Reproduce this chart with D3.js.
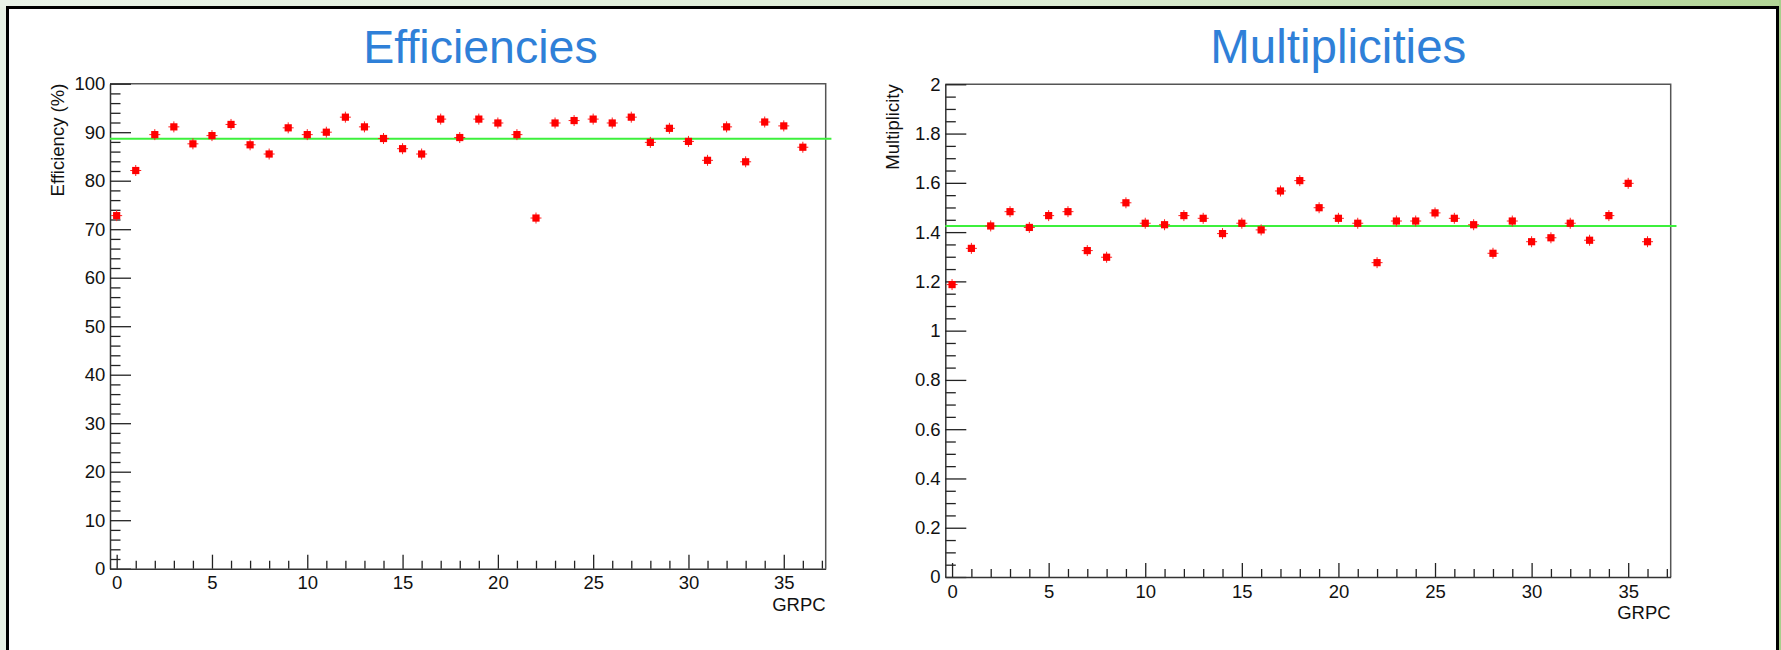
<!DOCTYPE html>
<html>
<head>
<meta charset="utf-8">
<script src="https://cdnjs.cloudflare.com/ajax/libs/d3/7.8.5/d3.min.js"></script>
<style>
  html, body { margin: 0; padding: 0; background: #fff; }
  svg { display: block; font-family: "Liberation Sans", Arial, Helvetica, sans-serif; }
</style>
</head>
<body>
<svg id="slide" width="1781" height="650"></svg>
<script>
// GRPC index 0..36
const grpc = d3.range(0, 37);

// Efficiency (%) per GRPC
const efficiency = [72.8, 82.1, 89.5, 91.1, 87.6, 89.3, 91.6, 87.4, 85.5, 90.9,
                    89.5, 90.0, 93.1, 91.1, 88.7, 86.6, 85.5, 92.7, 88.9, 92.7,
                    91.9, 89.5, 72.3, 91.9, 92.4, 92.7, 91.9, 93.1, 87.9, 90.8,
                    88.1, 84.2, 91.1, 83.9, 92.1, 91.3, 86.9];

// Multiplicity per GRPC
const multiplicity = [1.187, 1.334, 1.425, 1.483, 1.419, 1.467, 1.483, 1.325, 1.298, 1.519,
                      1.436, 1.430, 1.467, 1.456, 1.394, 1.436, 1.409, 1.567, 1.609, 1.499,
                      1.456, 1.436, 1.276, 1.445, 1.445, 1.478, 1.456, 1.430, 1.314, 1.445,
                      1.361, 1.377, 1.436, 1.367, 1.467, 1.598, 1.361];

// fitted constant (green line)
const effMean = 88.66;
const multMean = 1.425;

const xTicks = [0, 5, 10, 15, 20, 25, 30, 35];
const effTicks = [0, 10, 20, 30, 40, 50, 60, 70, 80, 90, 100];
const multTicks = [0, 0.2, 0.4, 0.6, 0.8, 1, 1.2, 1.4, 1.6, 1.8, 2];

const svg = d3.select("#slide");

// slide background
const grad = svg.append("defs").append("linearGradient")
    .attr("id", "topband").attr("x1", "0").attr("x2", "1");
grad.append("stop").attr("offset", "0").attr("stop-color", "#eaf3e8");
grad.append("stop").attr("offset", "0.6").attr("stop-color", "#dcecd4");
grad.append("stop").attr("offset", "1").attr("stop-color", "#b2d596");

svg.append("rect").attr("width", 1781).attr("height", 650).attr("fill", "#e8f2e5");
svg.append("rect").attr("width", 1781).attr("height", 7).attr("fill", "url(#topband)");
svg.append("rect").attr("x", 1779).attr("y", 0).attr("width", 2).attr("height", 650).attr("fill", "#a8cf8c");
svg.append("rect")
    .attr("x", 7.5).attr("y", 7.5).attr("width", 1770).attr("height", 660)
    .attr("fill", "#fff").attr("stroke", "#000").attr("stroke-width", 3);

function drawPanel(opt) {
    const g = svg.append("g");
    const x = d3.scaleLinear().domain([-0.35, 37.2]).range([opt.left, opt.right]);
    const y = d3.scaleLinear().domain(opt.yDomain).range([opt.bottom, opt.top]);

    // title
    g.append("text")
        .attr("x", opt.titleX).attr("y", 63.3)
        .attr("text-anchor", "middle")
        .attr("font-size", opt.titleSize)
        .attr("fill", "#2f80d8")
        .text(opt.title);

    // frame top/right
    g.append("path")
        .attr("d", "M" + opt.left + "," + opt.top + "H" + opt.right + "V" + opt.bottom)
        .attr("fill", "none").attr("stroke", "#555").attr("stroke-width", 1.5);

    // y axis, major + minor
    const yMinor = d3.range(opt.yDomain[0], opt.yDomain[1] + 1e-9, opt.yMinorStep)
        .filter(v => !opt.yTicks.some(t => Math.abs(t - v) < 1e-6));
    g.append("g")
        .attr("transform", "translate(" + opt.left + ",0)")
        .call(d3.axisLeft(y).tickValues(yMinor).tickSize(-10.5).tickFormat(""))
        .call(a => a.select(".domain").remove())
        .call(a => a.selectAll("line").attr("stroke", "#222").attr("stroke-width", 1.3));
    g.append("g")
        .attr("transform", "translate(" + opt.left + ",0)")
        .call(d3.axisLeft(y).tickValues(opt.yTicks).tickSize(-21).tickSizeOuter(0).tickPadding(4.7)
            .tickFormat(d => String(Math.round(d * 10) / 10)))
        .call(a => a.select(".domain").attr("stroke", "#333").attr("stroke-width", 1.5))
        .call(a => a.selectAll("line").attr("stroke", "#222").attr("stroke-width", 1.3))
        .call(a => a.selectAll("text").attr("font-size", 18.5).attr("fill", "#111")
            .attr("font-family", "'Liberation Sans', Arial, sans-serif"));

    // x axis, major + minor
    const xMinor = d3.range(0, 38).filter(v => v % 5 !== 0);
    g.append("g")
        .attr("transform", "translate(0," + opt.bottom + ")")
        .call(d3.axisBottom(x).tickValues(xMinor).tickSize(-8).tickFormat(""))
        .call(a => a.select(".domain").remove())
        .call(a => a.selectAll("line").attr("stroke", "#222").attr("stroke-width", 1.3));
    g.append("g")
        .attr("transform", "translate(0," + opt.bottom + ")")
        .call(d3.axisBottom(x).tickValues(xTicks).tickSize(-14).tickSizeOuter(0).tickPadding(7.5))
        .call(a => a.select(".domain").attr("stroke", "#333").attr("stroke-width", 1.5))
        .call(a => a.selectAll("line").attr("stroke", "#222").attr("stroke-width", 1.3))
        .call(a => a.selectAll("text").attr("font-size", 18.5).attr("fill", "#111")
            .attr("font-family", "'Liberation Sans', Arial, sans-serif"));

    // axis titles
    g.append("text")
        .attr("x", opt.right).attr("y", opt.bottom + 42)
        .attr("text-anchor", "end").attr("font-size", 18.5).attr("fill", "#111")
        .text("GRPC");
    g.append("text")
        .attr("transform", "translate(" + opt.yTitleX + "," + opt.top + ") rotate(-90)")
        .attr("text-anchor", "end").attr("font-size", 18.5).attr("fill", "#111")
        .text(opt.yTitle);

    // constant fit
    g.append("line")
        .attr("x1", x(-0.35)).attr("x2", x(37.5))
        .attr("y1", y(opt.mean)).attr("y2", y(opt.mean))
        .attr("stroke", "#3cf03c").attr("stroke-width", 2);

    // points with small error bars
    const pts = g.selectAll(".pt").data(grpc).enter().append("g")
        .attr("class", "pt")
        .attr("transform", d => "translate(" + x(d) + "," + y(opt.values[d]) + ")");
    pts.append("path")
        .attr("d", "M-5.5,0H5.5M0,-5.5V5.5")
        .attr("stroke", "#ff2020").attr("stroke-width", 1);
    pts.append("rect")
        .attr("x", -3.6).attr("y", -3.6).attr("width", 7.2).attr("height", 7.2)
        .attr("fill", "#ff0000");
}

drawPanel({
    title: "Efficiencies", titleX: 480.5, titleSize: 46.5,
    left: 110, right: 825.7, top: 83.7, bottom: 568.7,
    yDomain: [0, 100], yTicks: effTicks, yMinorStep: 2,
    yTitle: "Efficiency (%)", yTitleX: 64.3,
    values: efficiency, mean: effMean
});

drawPanel({
    title: "Multiplicities", titleX: 1338.3, titleSize: 47.5,
    left: 945.3, right: 1670.7, top: 84.3, bottom: 577,
    yDomain: [0, 2], yTicks: multTicks, yMinorStep: 0.05,
    yTitle: "Multiplicity", yTitleX: 898.5,
    values: multiplicity, mean: multMean
});
</script>
</body>
</html>
